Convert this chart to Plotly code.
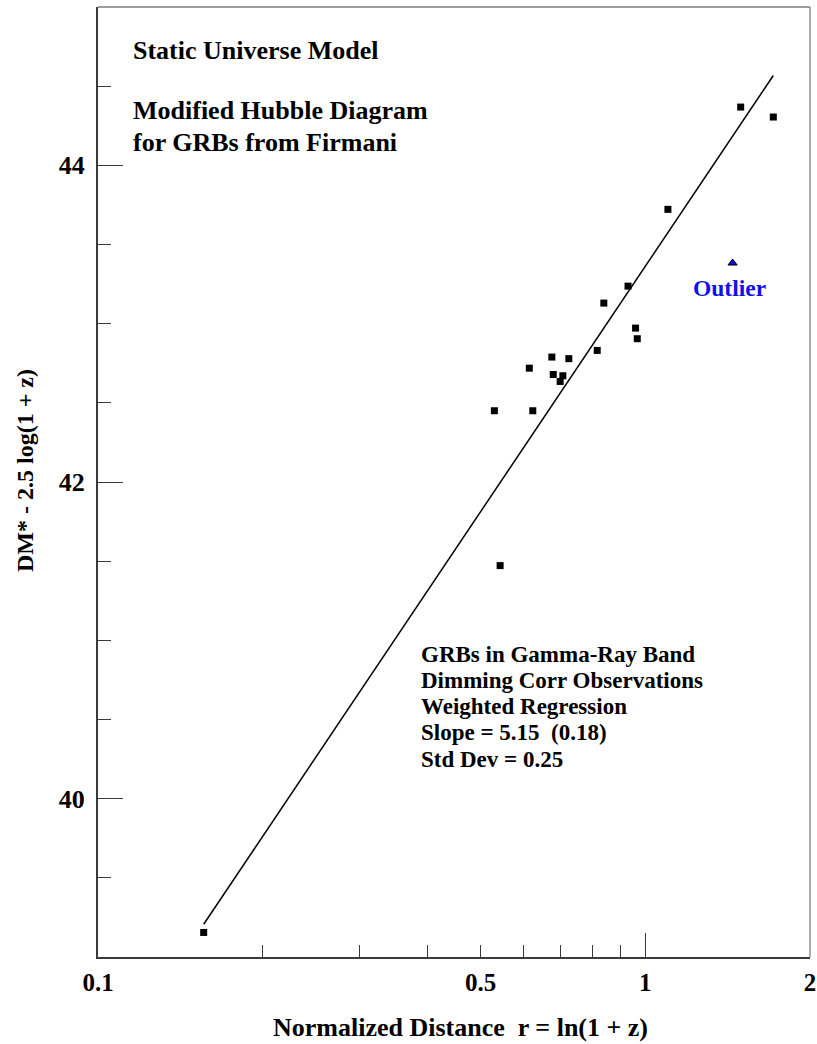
import numpy as np
import plotly.graph_objects as go

# GRB sample: normalized distance r = ln(1+z) and DM* - 2.5 log(1+z)
r_values = [1.494, 1.714, 1.100, 0.930, 0.840, 0.960, 0.967, 0.817, 0.675,
            0.725, 0.614, 0.679, 0.707, 0.699, 0.530, 0.623, 0.543, 0.156]
dm_values = [44.368, 44.305, 43.722, 43.237, 43.130, 42.972, 42.905, 42.831,
             42.789, 42.779, 42.719, 42.679, 42.671, 42.635, 42.450, 42.450,
             41.472, 39.155]

# Excluded outlier
outlier_r = [1.444]
outlier_dm = [43.383]

# Weighted regression: DM = intercept + slope * log10(r)
slope = 5.15
intercept = 43.362

x_tick_vals = [0.1, 0.5, 1, 2]
x_tick_text = ["0.1", "0.5", "1", "2"]
x_minor_vals = [0.2, 0.3, 0.4, 0.6, 0.7, 0.8, 0.9]
y_tick_vals = [40, 42, 44]

FONT = "Liberation Serif"
AX = "#3a3a3a"

fit_r = np.array([min(r_values), max(r_values)])
fit_dm = intercept + slope * np.log10(fit_r)

fig = go.Figure()
fig.add_trace(go.Scatter(
    x=fit_r, y=fit_dm, mode="lines", xaxis="x2", yaxis="y",
    line=dict(color="black", width=1.5), hoverinfo="skip", showlegend=False))
fig.add_trace(go.Scatter(
    x=r_values, y=dm_values, mode="markers",
    marker=dict(symbol="square", size=7, color="black"), showlegend=False))
fig.add_trace(go.Scatter(
    x=outlier_r, y=outlier_dm, mode="markers",
    marker=dict(symbol="triangle-up", size=8, color="#1010e0",
                line=dict(color="black", width=1)), showlegend=False))

W, H = 817, 1044
L, R, T, B = 98, 7, 7, 87
pw, ph = W - L - R, H - T - B


def px(x):
    return (x - L) / pw


def py(y):
    return (H - B - y) / ph


def note(text, x, y, size=22, color="black", xanchor="left", angle=0):
    fig.add_annotation(text=text, x=px(x), y=py(y), xref="paper", yref="paper",
                       xanchor=xanchor, yanchor="middle", showarrow=False,
                       textangle=angle,
                       font=dict(family=FONT, size=size, color=color))


note("<b>Static Universe Model</b>", 131, 51, size=26)
note("<b>Modified Hubble Diagram</b>", 131, 110, size=26)
note("<b>for GRBs from Firmani</b>", 131, 142, size=26)
note("<b>Outlier</b>", 729, 288, size=23.5, color="#1010ee", xanchor="center")
block = ["GRBs in Gamma-Ray Band", "Dimming Corr Observations",
         "Weighted Regression", "Slope = 5.15  (0.18)", "Std Dev = 0.25"]
for i, line in enumerate(block):
    note("<b>" + line + "</b>", 419, 654 + i * 26.3, size=23)

# axis titles
note("<b>Normalized Distance  r = ln(1 + z)</b>", 460, 1027, size=26,
     xanchor="center")
note("<b>DM* - 2.5 log(1 + z)</b>", 25, 471, size=24, xanchor="center",
     angle=-90)

fig.update_layout(
    width=W, height=H,
    margin=dict(l=L, r=R, t=T, b=B),
    plot_bgcolor="white", paper_bgcolor="white",
    font=dict(family=FONT, color="black"),
    xaxis=dict(
        type="log", range=[-1, np.log10(2)], automargin=False,
        tickmode="array", tickvals=x_tick_vals, ticktext=x_tick_text,
        ticks="inside", ticklen=12, tickwidth=1.2, tickcolor=AX,
        minor=dict(tickmode="array", tickvals=x_minor_vals, ticks="inside",
                   ticklen=12, tickwidth=1.2, tickcolor=AX, showgrid=False),
        tickfont=dict(family=FONT, size=25, color="black", weight="bold"),
        ticklabelstandoff=2,
        showline=True, linecolor=AX, linewidth=2, mirror=False,
        showgrid=False, zeroline=False,
    ),
    xaxis2=dict(
        type="log", overlaying="x", matches="x", anchor="y", side="bottom",
        automargin=False,
        tickmode="array", tickvals=[1], ticks="inside", ticklen=24,
        tickwidth=1.2, tickcolor=AX, showticklabels=False,
        showline=False, showgrid=False, zeroline=False,
    ),
    yaxis=dict(
        range=[39, 45], automargin=False,
        tickmode="array", tickvals=y_tick_vals,
        ticks="inside", ticklen=25, tickwidth=1.2, tickcolor=AX,
        minor=dict(dtick=0.5, tick0=39, ticks="inside", ticklen=13,
                   tickwidth=1.2, tickcolor=AX, showgrid=False),
        tickfont=dict(family=FONT, size=26, color="black", weight="bold"),
        ticklabelstandoff=6,
        showline=True, linecolor=AX, linewidth=2, mirror=False,
        showgrid=False, zeroline=False,
    ),
    shapes=[
        dict(type="line", xref="paper", yref="paper", x0=0, x1=1, y0=1, y1=1,
             line=dict(color=AX, width=1.2)),
        dict(type="line", xref="paper", yref="paper", x0=1, x1=1, y0=0, y1=1,
             line=dict(color="#777777", width=1.2)),
    ],
)

fig.write_html("out.html")
